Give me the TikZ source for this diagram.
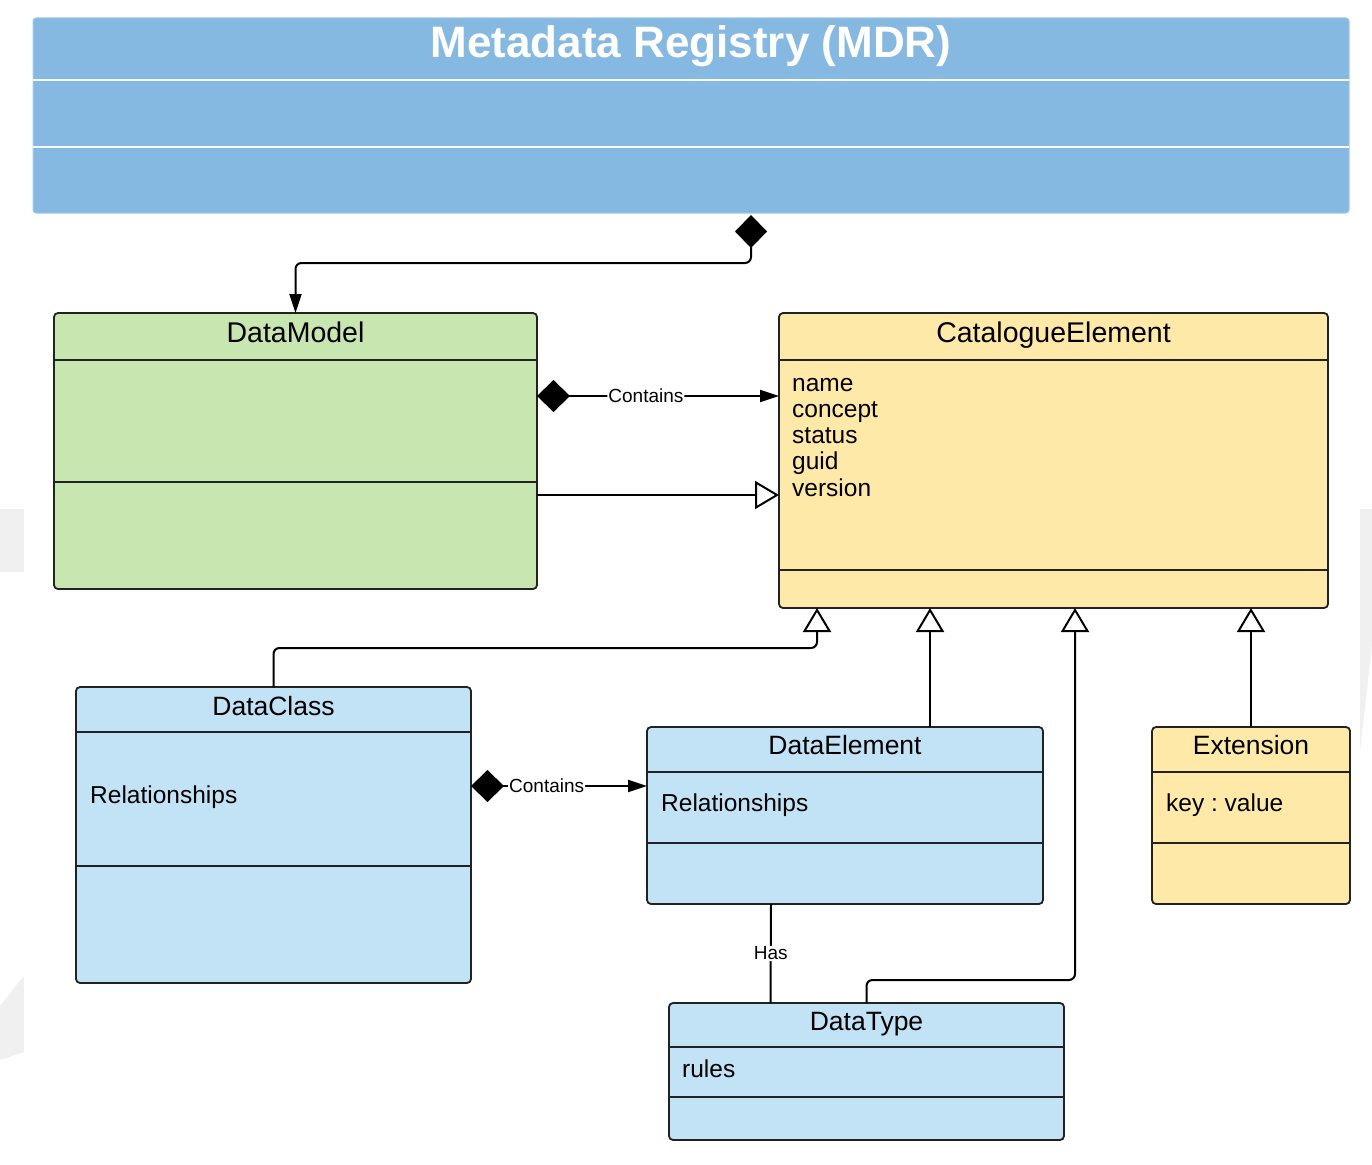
\documentclass[tikz,border=0pt]{standalone}
\usepackage{fontspec}
\setmainfont{Liberation Sans}
\usetikzlibrary{arrows.meta,calc,positioning}
\frenchspacing

\definecolor{mdrblue}{HTML}{85B9E1}
\definecolor{mdredge}{HTML}{A6CBEA}
\definecolor{dmgreen}{HTML}{C8E6B0}
\definecolor{ceyellow}{HTML}{FFE9A8}
\definecolor{clsblue}{HTML}{C2E3F5}
\definecolor{edge}{HTML}{222222}
\definecolor{wmgray}{HTML}{F0F0F0}

\begin{document}
\begin{tikzpicture}[x=1pt,y=-1pt,
  cls/.style={draw=edge,line width=1.8pt,rounded corners=4pt,anchor=north west,
    inner sep=0pt,outer sep=0pt},
  hdr/.style={font=\fontsize{26.5}{30}\selectfont,anchor=base,inner sep=0pt},
  attr/.style={font=\fontsize{24.5}{28}\selectfont,anchor=base west,inner sep=0pt},
  div/.style={edge,line width=1.8pt},
  lbl/.style={font=\fontsize{19}{22}\selectfont,fill=white,inner sep=1pt},
  conn/.style={line width=2pt,rounded corners=6pt},
  comp/.style={conn,{Diamond[length=33pt,width=32pt]}-{Triangle[length=19pt,width=12pt]}},
  gen/.style={conn,-{Triangle[length=24pt,width=28pt,fill=white]}},
]

\useasboundingbox (0,0) rectangle (1372,1164);

% faint shapes at the edges
\fill[wmgray] (0,509) rectangle (24,572);
\fill[wmgray] (0,1006) .. controls (8,996) and (16,985) .. (24,976)
  -- (24,1052) -- (0,1060) -- cycle;
\fill[wmgray] (1360,509) -- (1372,509) -- (1372,645) -- (1360,751) -- cycle;

% ------------------------------------------------------------------
% Metadata Registry
% ------------------------------------------------------------------
\node[fill=mdrblue,draw=mdredge,line width=1pt,rounded corners=3pt,anchor=north west,
  inner sep=0pt,outer sep=0pt,minimum width=1316pt,minimum height=195pt] (mdr) at (33,18) {};
\draw[white,line width=2pt] ($(mdr.north west)+(0,62)$) -- ($(mdr.north east)+(0,62)$);
\draw[white,line width=2pt] ($(mdr.north west)+(0,129)$) -- ($(mdr.north east)+(0,129)$);
\node[font=\fontsize{44}{50}\selectfont\bfseries,text=white,anchor=base,inner sep=0pt]
  (mdrT) at ($(mdr.north)+(0,40)$) {Metadata Registry (MDR)};

% ------------------------------------------------------------------
% class boxes
% ------------------------------------------------------------------
\node[cls,fill=dmgreen,minimum width=483pt,minimum height=276pt] (dm) at (54,313) {};
\node[hdr,font=\fontsize{28.5}{32}\selectfont] (dmT) at ($(dm.north)+(0,29)$) {DataModel};

\node[cls,fill=ceyellow,minimum width=549pt,minimum height=295pt] (ce) at (779,313) {};
\node[hdr,font=\fontsize{28.5}{32}\selectfont] (ceT) at ($(ce.north)+(0,29)$) {CatalogueElement};
\foreach \a [count=\i from 0] in {name,concept,status,guid,version}
  \node[attr] (ce-\a) at ($(ce.north west)+(13,78+26.3*\i)$) {\a};

\node[cls,fill=clsblue,minimum width=395pt,minimum height=296pt] (dc) at (76,687) {};
\node[hdr] (dcT) at ($(dc.north)+(0,28)$) {DataClass};
\node[attr] (dcA) at ($(dc.north west)+(14,116)$) {Relationships};

\node[cls,fill=clsblue,minimum width=396pt,minimum height=177pt] (de) at (647,727) {};
\node[hdr] (deT) at ($(de.north)+(0,27)$) {DataElement};
\node[attr] (deA) at ($(de.north west)+(14,84)$) {Relationships};

\node[cls,fill=ceyellow,minimum width=198pt,minimum height=177pt] (ex) at (1152,727) {};
\node[hdr] (exT) at ($(ex.north)+(0,27)$) {Extension};
\node[attr] (exA) at ($(ex.north west)+(14,84)$) {key : value};

\node[cls,fill=clsblue,minimum width=395pt,minimum height=137pt] (dt) at (669,1003) {};
\node[hdr] (dtT) at ($(dt.north)+(0,27)$) {DataType};
\node[attr] (dtA) at ($(dt.north west)+(13,74)$) {rules};

% compartment lines
\foreach \n/\o in {dm/47,dm/169,ce/47,ce/257,dc/45,dc/179,de/45,de/116,ex/45,ex/116,dt/44,dt/94}
  \draw[div] ($(\n.north west)+(0,\o)$) -- ($(\n.north east)+(0,\o)$);

% ------------------------------------------------------------------
% connectors
% ------------------------------------------------------------------
\draw[comp] ($(mdr.south)+(60,2)$) -- ++(0,48) -| (dm.north);

\draw[comp] (dm.east |- 0,396) -- node[lbl,pos=0.45]{Contains} (ce.west |- 0,396);
\draw[gen] (dm.east |- 0,495) -- (ce.west |- 0,495);

\draw[gen] (dc.north) -- ++(0,-39) -| ($(ce.south west)+(38,0)$);
\draw[gen] ($(de.north)+(85,0)$) -- ($(ce.south west)+(151,0)$);
\draw[gen] (dt.north) -- ++(0,-23) -| ($(ce.south west)+(296,0)$);
\draw[gen] (ex.north) -- (ex.north |- ce.south);

\draw[comp] (dc.east |- 0,786) -- node[lbl,pos=0.43]{Contains} (de.west |- 0,786);
\draw[conn] ($(de.south)+(-74,0)$) -- node[lbl]{Has} ($(dt.north)+(-96,0)$);

\end{tikzpicture}
\end{document}
